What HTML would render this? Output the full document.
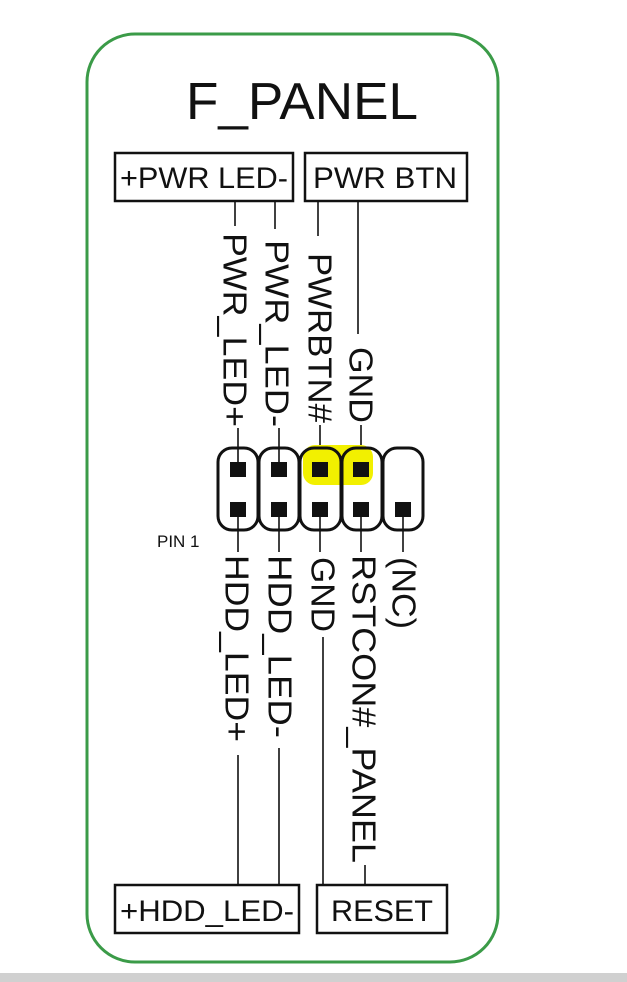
<!DOCTYPE html>
<html><head><meta charset="utf-8"><style>
html,body{margin:0;padding:0;background:#fff;}
svg{display:block;}
text{font-family:"Liberation Sans",Arial,sans-serif;fill:#111;}
</style></head><body>
<svg width="627" height="982" viewBox="0 0 627 982" xmlns="http://www.w3.org/2000/svg">
<rect x="0" y="0" width="627" height="982" fill="#fff"/>
<rect x="0" y="973" width="627" height="9" fill="#d0d0d0"/>
<rect x="87" y="34" width="411" height="928" rx="48" ry="48" fill="none" stroke="#3b9b48" stroke-width="3"/>
<text x="186" y="119" font-size="52" textLength="232" lengthAdjust="spacingAndGlyphs">F_PANEL</text>

<rect x="115" y="153" width="178" height="48" fill="none" stroke="#111" stroke-width="2.5"/>
<text x="120" y="188" font-size="30" textLength="168" lengthAdjust="spacingAndGlyphs">+PWR LED-</text>
<rect x="305" y="153" width="162" height="48" fill="none" stroke="#111" stroke-width="2.5"/>
<text x="313" y="188" font-size="30" textLength="144" lengthAdjust="spacingAndGlyphs">PWR BTN</text>

<g stroke="#111" stroke-width="1.6">
<line x1="235" y1="201" x2="235" y2="226"/>
<line x1="275" y1="201" x2="275" y2="229"/>
<line x1="318" y1="201" x2="318" y2="236"/>
<line x1="358" y1="201" x2="358" y2="334"/>
<line x1="238" y1="428" x2="238" y2="470"/>
<line x1="279" y1="428" x2="279" y2="470"/>
<line x1="320" y1="425" x2="320" y2="470"/>
<line x1="361" y1="425" x2="361" y2="470"/>
<line x1="238" y1="510" x2="238" y2="552"/>
<line x1="279" y1="510" x2="279" y2="552"/>
<line x1="320" y1="510" x2="320" y2="552"/>
<line x1="361" y1="510" x2="361" y2="552"/>
<line x1="403" y1="510" x2="403" y2="552"/>
<line x1="238" y1="755" x2="238" y2="885"/>
<line x1="279" y1="748" x2="279" y2="885"/>
<line x1="323" y1="637" x2="323" y2="885"/>
<line x1="365" y1="865" x2="365" y2="885"/>
</g>

<text transform="translate(235,233) rotate(90)" font-size="33" dominant-baseline="central" textLength="194" lengthAdjust="spacingAndGlyphs">PWR_LED+</text>
<text transform="translate(277,240) rotate(90)" font-size="33" dominant-baseline="central" textLength="187" lengthAdjust="spacingAndGlyphs">PWR_LED-</text>
<text transform="translate(320,253) rotate(90)" font-size="33" dominant-baseline="central" textLength="170" lengthAdjust="spacingAndGlyphs">PWRBTN#</text>
<text transform="translate(361,347) rotate(90)" font-size="33" dominant-baseline="central" textLength="76" lengthAdjust="spacingAndGlyphs">GND</text>

<rect x="303" y="445" width="70" height="40" rx="12" fill="#f2f000"/>

<g fill="none" stroke="#111" stroke-width="3">
<rect x="218" y="448" width="40" height="82" rx="14"/>
<rect x="259" y="448" width="40" height="82" rx="14"/>
<rect x="300" y="448" width="41" height="82" rx="14"/>
<rect x="342" y="448" width="40" height="82" rx="14"/>
<rect x="383" y="448" width="40" height="82" rx="14"/>
</g>
<g fill="#111">
<rect x="230" y="462" width="16" height="15"/>
<rect x="271" y="462" width="16" height="15"/>
<rect x="312" y="462" width="16" height="15"/>
<rect x="353" y="462" width="16" height="15"/>
<rect x="230" y="502" width="16" height="15"/>
<rect x="271" y="502" width="16" height="15"/>
<rect x="312" y="502" width="16" height="15"/>
<rect x="353" y="502" width="16" height="15"/>
<rect x="395" y="502" width="16" height="15"/>
</g>

<text x="157" y="547" font-size="17">PIN 1</text>

<text transform="translate(237,555) rotate(90)" font-size="33" dominant-baseline="central" textLength="187" lengthAdjust="spacingAndGlyphs">HDD_LED+</text>
<text transform="translate(280,555) rotate(90)" font-size="33" dominant-baseline="central" textLength="183" lengthAdjust="spacingAndGlyphs">HDD_LED-</text>
<text transform="translate(323,557) rotate(90)" font-size="33" dominant-baseline="central" textLength="75" lengthAdjust="spacingAndGlyphs">GND</text>
<text transform="translate(364,555) rotate(90)" font-size="33" dominant-baseline="central" textLength="308" lengthAdjust="spacingAndGlyphs">RSTCON#_PANEL</text>
<text transform="translate(404,557) rotate(90)" font-size="33" dominant-baseline="central" textLength="72" lengthAdjust="spacingAndGlyphs">(NC)</text>

<rect x="115" y="885" width="184" height="48" fill="none" stroke="#111" stroke-width="2.5"/>
<text x="120" y="921" font-size="30" textLength="174" lengthAdjust="spacingAndGlyphs">+HDD_LED-</text>
<rect x="317" y="885" width="130" height="48" fill="none" stroke="#111" stroke-width="2.5"/>
<text x="331" y="921" font-size="30" textLength="102" lengthAdjust="spacingAndGlyphs">RESET</text>
</svg>
</body></html>
